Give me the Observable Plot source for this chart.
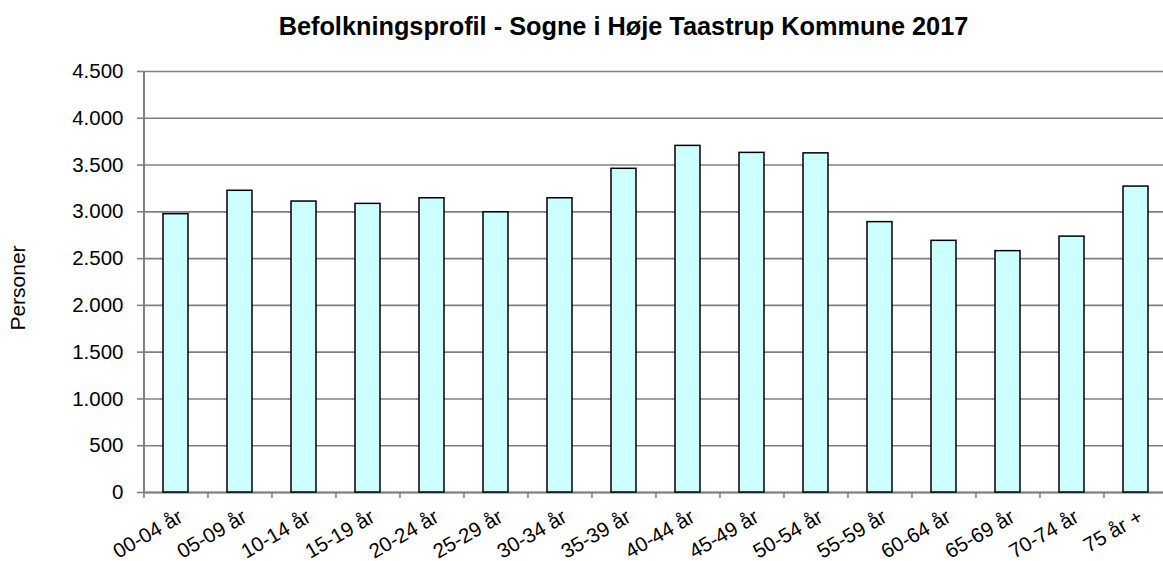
<!DOCTYPE html>
<html>
<head>
<meta charset="utf-8">
<script src="https://cdn.jsdelivr.net/npm/d3@7"></script>
<script src="https://cdn.jsdelivr.net/npm/@observablehq/plot@0.6"></script>
<style>
  html, body { margin: 0; padding: 0; background: white; }
  #title {
    width: 1163px; height: 50px; box-sizing: border-box;
    padding-top: 14px; padding-left: 84px;
    text-align: center; line-height: 25px;
    font-family: "Liberation Sans", Arial, sans-serif; font-weight: bold; font-size: 25.3px; color: #000;
    white-space: nowrap;
  }
</style>
</head>
<body>
<div id="title">Befolkningsprofil - Sogne i Høje Taastrup Kommune 2017</div>
<div id="chart"></div>
<script>
const categories = ["00-04 år", "05-09 år", "10-14 år", "15-19 år", "20-24 år", "25-29 år", "30-34 år", "35-39 år",
  "40-44 år", "45-49 år", "50-54 år", "55-59 år", "60-64 år", "65-69 år", "70-74 år", "75 år +"];
const values = [2975, 3225, 3110, 3085, 3145, 2995, 3145, 3460, 3705, 3630, 3625, 2890, 2690, 2580, 2735, 3270];
const yTicks = [0, 500, 1000, 1500, 2000, 2500, 3000, 3500, 4000, 4500];
const yLabel = "Personer";

const data = categories.map((c, i) => ({category: c, value: values[i]}));
const da = d3.formatLocale({decimal: ",", thousands: ".", grouping: [3], currency: ["", " kr."]});
const fmt = da.format(",d");

const W = 1163, H = 511, mL = 143, mR = -5, mT = 21, mB = 69;
const step = (W - mR - mL) / categories.length;
const gray = "#808080";
const fs = 20.5;

const chart = Plot.plot({
  width: W, height: H,
  marginLeft: mL, marginRight: mR, marginTop: mT, marginBottom: mB,
  style: {fontFamily: "'Liberation Sans', Arial, sans-serif", fontSize: fs + "px", color: "#000", background: "white"},
  x: {domain: categories, paddingInner: 0.61, paddingOuter: 0.305, label: null, axis: null},
  y: {domain: [0, 4500], label: null, axis: null},
  marks: [
    Plot.gridY(yTicks, {stroke: gray, strokeOpacity: 1, strokeWidth: 1.6}),
    Plot.ruleX([categories[0]], {y1: 0, y2: 4500, dx: -step / 2, stroke: gray, strokeWidth: 2}),
    Plot.ruleY([0], {stroke: gray, strokeWidth: 2}),
    Plot.barY(data, {x: "category", y: "value", fill: "#CCFFFF", stroke: "#000", strokeWidth: 1.5}),
    Plot.axisY(yTicks, {tickSize: 6, tickPadding: 14, tickFormat: fmt, stroke: gray, strokeWidth: 1.6, fill: "#000",
      fontSize: fs, label: null}),
    Plot.text([yLabel], {frameAnchor: "left", text: d => d, rotate: -90, dx: -125, dy: 6,
      textAnchor: "middle", lineAnchor: "middle", fontSize: 21, fill: "#000"}),
    Plot.axisX({tickSize: 6, tickFormat: () => "", dx: -step / 2, stroke: gray, strokeWidth: 1.6, label: null}),
    Plot.text(categories, {x: d => d, text: d => d, frameAnchor: "bottom", rotate: -30,
      textAnchor: "end", lineAnchor: "top", dx: 1, dy: 15.7, fontSize: fs, fill: "#000"})
  ]
});
document.getElementById("chart").appendChild(chart);
</script>
</body>
</html>
